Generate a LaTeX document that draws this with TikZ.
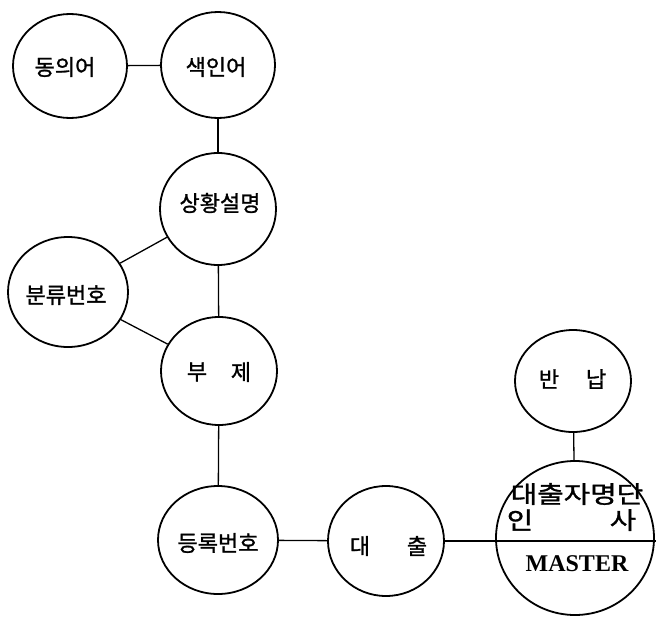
\documentclass[tikz,border=0pt]{standalone}
\usepackage{fontspec}
\setmainfont{Liberation Serif}
\newfontfamily\kr{Noto Sans CJK KR}[FakeBold=1.2]
\newfontfamily\krwide{Noto Sans CJK KR}[FakeBold=1.2, FakeStretch=1.2]
\usetikzlibrary{shapes.geometric}

\begin{document}
\begin{tikzpicture}[x=1pt,y=-1pt,
  bub/.style={draw, line width=1.8pt, ellipse, inner sep=0pt},
  lbl/.style={inner sep=0pt, font=\kr\fontsize{22}{24}\selectfont},
  big/.style={inner sep=0pt, font=\krwide\fontsize{24}{26}\selectfont},
  link/.style={line width=1.3pt}]
\useasboundingbox (0,0) rectangle (656,616);

% bubbles
\node[bub, minimum width=114pt, minimum height=104pt] (syn)  at (70,66)   {};
\node[bub, minimum width=114pt, minimum height=106pt] (idx)  at (218,65)  {};
\node[bub, minimum width=116pt, minimum height=112pt] (desc) at (218,209) {};
\node[bub, minimum width=120pt, minimum height=110pt] (cls)  at (68,292)  {};
\node[bub, minimum width=116pt, minimum height=108pt] (sub)  at (219,371) {};
\node[bub, minimum width=120pt, minimum height=108pt] (reg)  at (218,540) {};
\node[bub, minimum width=116pt, minimum height=110pt] (loan) at (386,541) {};
\node[bub, minimum width=116pt, minimum height=102pt] (ret)  at (573,381) {};
\node[bub, minimum width=158pt, minimum height=154pt] (mst)  at (575,538) {};

% labels
\node[lbl] (syn-t)  at (65,67)   {동의어};
\node[lbl] (idx-t)  at (216,67)  {색인어};
\node[lbl] (desc-t) at (220,203) {상황설명};
\node[lbl] (cls-t)  at (66,295)  {분류번호};
\node[lbl] (sub-t1) at (197,372) {부};
\node[lbl] (sub-t2) at (241,372) {제};
\node[lbl] (reg-t)  at (218,543) {등록번호};
\node[lbl] (loan-t1) at (360,546) {대};
\node[lbl] (loan-t2) at (417,546) {출};
\node[lbl] (ret-t1) at (549,379) {반};
\node[lbl] (ret-t2) at (596,379) {납};
\node[big] (mst-t1) at (577,494) {대출자명단};
\node[big] (mst-t2) at (520,520) {인};
\node[big] (mst-t3) at (623,520) {사};
\node[inner sep=0pt, font=\bfseries\fontsize{24}{26}\selectfont] (mst-t4) at (577,564) {MASTER};

\coordinate (edge) at (656,541);

% connectors
\draw[link] (syn) -- (idx);
\draw[link] (idx) -- (desc);
\draw[link] (desc) -- (sub);
\draw[link] (cls) -- (desc);
\draw[link] (cls) -- (sub);
\draw[link] (sub) -- (reg);
\draw[link] (reg) -- (loan);
\draw[link] (loan.east) -- (edge);
\draw[link] (ret) -- (mst);
\end{tikzpicture}
\end{document}
